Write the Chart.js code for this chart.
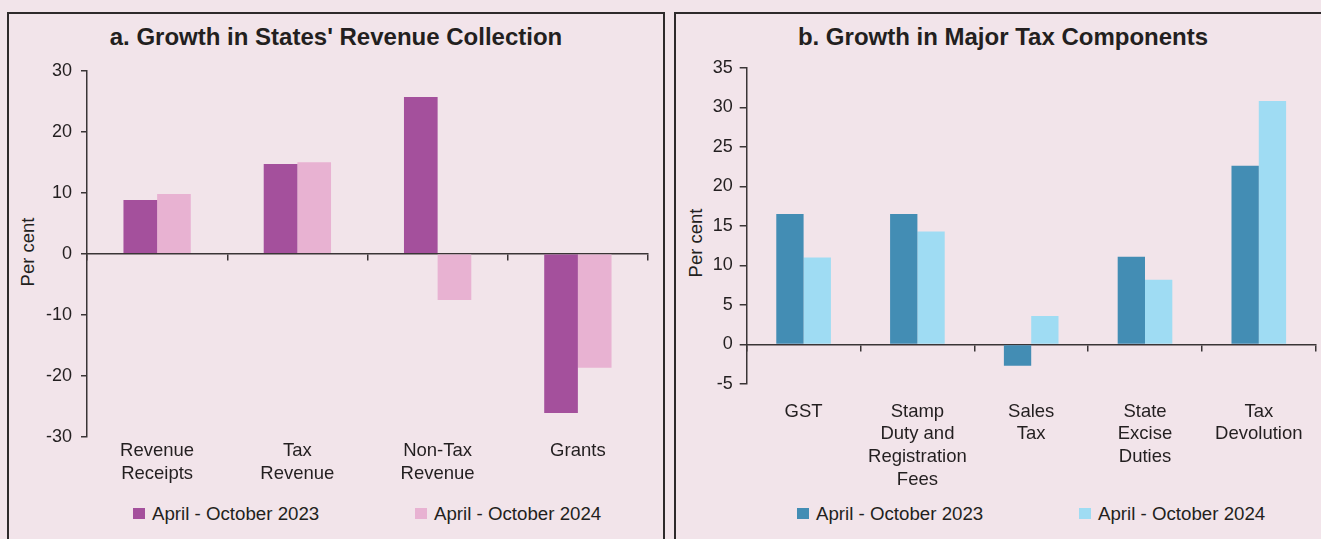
<!DOCTYPE html>
<html>
<head>
<meta charset="utf-8">
<script src="https://cdn.jsdelivr.net/npm/chart.js@4.4.1/dist/chart.umd.min.js"></script>
<style>
  html, body { margin: 0; padding: 0; background: #f2e4ea; overflow: hidden; }
  body { width: 1321px; height: 539px; position: relative; font-family: "Liberation Sans", Arial, sans-serif; color: #231f20; }
  .panel { position: absolute; top: 12px; height: 600px; border: 2px solid #2e2a2b; box-sizing: border-box; }
  .title { position: absolute; top: 23px; font-weight: bold; font-size: 24px; line-height: 28px; text-align: center; }
  .ytitle { position: absolute; font-size: 18.5px; line-height: 20px; width: 100px; text-align: center; transform: rotate(-90deg); }
  .leg { position: absolute; top: 503px; font-size: 18.7px; line-height: 22px; white-space: nowrap; }
  .leg i { position: absolute; left: -19px; top: 5px; width: 12px; height: 11px; }
  canvas { position: absolute; }
</style>
</head>
<body>
<div class="panel" style="left:7px;width:658px;"></div>
<div class="panel" style="left:674px;width:700px;"></div>

<div class="title" style="left:8px;width:656px;">a. Growth in States' Revenue Collection</div>
<div class="title" style="left:676px;width:654px;">b. Growth in Major Tax Components</div>

<div class="ytitle" style="left:-22px;top:242px;">Per cent</div>
<div class="ytitle" style="left:646px;top:233px;">Per cent</div>

<div class="leg" style="left:152px;"><i style="background:#a4509c"></i>April - October 2023</div>
<div class="leg" style="left:434px;"><i style="background:#e8b2d2"></i>April - October 2024</div>
<div class="leg" style="left:816px;"><i style="background:#438db4"></i>April - October 2023</div>
<div class="leg" style="left:1098px;"><i style="background:#9fdcf3"></i>April - October 2024</div>

<canvas id="revChart" width="654" height="440" style="left:9px;top:50px;width:654px;height:440px;"></canvas>
<canvas id="taxChart" width="645" height="440" style="left:676px;top:50px;width:645px;height:440px;"></canvas>

<script>
// panel a: growth in states' revenue collection (per cent)
const revLabels = [['Revenue', 'Receipts'], ['Tax', 'Revenue'], ['Non-Tax', 'Revenue'], ['Grants']];
const rev2023 = [8.8, 14.7, 25.7, -26.1];
const rev2024 = [9.8, 15.0, -7.6, -18.7];

// panel b: growth in major tax components (per cent)
const taxLabels = [['GST'], ['Stamp', 'Duty and', 'Registration', 'Fees'], ['Sales', 'Tax'], ['State', 'Excise', 'Duties'], ['Tax', 'Devolution']];
const tax2023 = [16.5, 16.5, -2.7, 11.1, 22.6];
const tax2024 = [11.0, 14.3, 3.6, 8.2, 30.8];

const inkColor = '#231f20';
const lineColor = '#3a3536';
const fontFam = '"Liberation Sans", Arial, sans-serif';

function makeChart(id, labels, s1, s2, colors, yCfg, box) {
  new Chart(document.getElementById(id), {
    type: 'bar',
    data: {
      labels: labels,
      datasets: [
        { label: 'April - October 2023', data: s1, backgroundColor: colors[0], xAxisID: 'x' },
        { label: 'April - October 2024', data: s2, backgroundColor: colors[1], xAxisID: 'x' }
      ]
    },
    options: {
      responsive: false,
      animation: false,
      categoryPercentage: 0.48,
      barPercentage: 1.0,
      layout: { padding: { top: box.top, right: box.right, bottom: 0, left: 0 } },
      plugins: { legend: { display: false }, title: { display: false }, tooltip: { enabled: false } },
      scales: {
        x: {
          position: 'bottom',
          grid: { display: false, drawTicks: false },
          border: { display: false },
          ticks: {
            color: inkColor, maxRotation: 0, autoSkip: false, padding: box.labelPad,
            font: { family: fontFam, size: 18.5, lineHeight: 1.22 }
          },
          afterFit: (s) => { s.height = box.xHeight; }
        },
        x2: {
          type: 'category',
          position: { y: 0 },
          offset: true,
          ticks: { display: false },
          grid: { drawOnChartArea: false, drawTicks: true, tickLength: 6, offset: true, color: lineColor, lineWidth: 1.5 },
          border: { color: lineColor, width: 1.5 }
        },
        y: {
          min: yCfg.min, max: yCfg.max,
          grid: { drawOnChartArea: false, tickLength: yCfg.tickLen, color: lineColor, lineWidth: 1.5 },
          border: { color: lineColor, width: 1.5 },
          ticks: {
            stepSize: yCfg.step, color: inkColor, padding: yCfg.pad,
            font: { family: fontFam, size: 18 }
          },
          afterFit: (s) => { s.width = box.yWidth; }
        }
      }
    }
  });
}

makeChart('revChart', revLabels, rev2023, rev2024, ['#a4509c', '#e8b2d2'],
  { min: -30, max: 30, step: 10, tickLen: 6, pad: 9 },
  { top: 20.7, right: 15, yWidth: 78, xHeight: 53.3, labelPad: 3 });

makeChart('taxChart', taxLabels, tax2023, tax2024, ['#438db4', '#9fdcf3'],
  { min: -5, max: 35, step: 5, tickLen: 7, pad: 7 },
  { top: 16.7, right: 5.3, yWidth: 70.7, xHeight: 106, labelPad: 16.5 });
</script>
</body>
</html>
